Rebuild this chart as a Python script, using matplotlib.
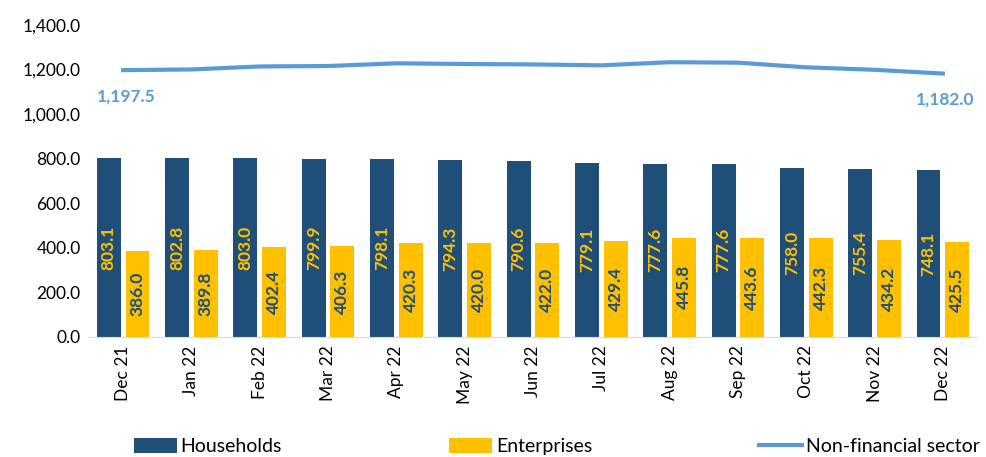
import numpy as np
import matplotlib.pyplot as plt

months = ['Dec 21', 'Jan 22', 'Feb 22', 'Mar 22', 'Apr 22', 'May 22', 'Jun 22',
          'Jul 22', 'Aug 22', 'Sep 22', 'Oct 22', 'Nov 22', 'Dec 22']
households = [803.1, 802.8, 803.0, 799.9, 798.1, 794.3, 790.6, 779.1, 777.6, 777.6, 758.0, 755.4, 748.1]
enterprises = [386.0, 389.8, 402.4, 406.3, 420.3, 420.0, 422.0, 429.4, 445.8, 443.6, 442.3, 434.2, 425.5]
non_financial = [1197.5, 1200.5, 1214.0, 1216.0, 1228.0, 1225.0, 1223.0, 1219.0, 1233.0, 1231.0, 1210.0, 1199.0, 1182.0]

c_house = '#1F4E79'
c_ent = '#FFC000'
c_line = '#5B9BD5'

plt.rcParams['font.family'] = ['Lato', 'DejaVu Sans']

fig = plt.figure(figsize=(9.87, 4.57), dpi=100)
ax = fig.add_axes([0.0902, 0.2626, 0.8997, 0.6827])

x = np.arange(len(months))
w = 0.35
b1 = ax.bar(x - 0.21, households, w, color=c_house, label='Households')
b2 = ax.bar(x + 0.21, enterprises, w, color=c_ent, label='Enterprises')
ln, = ax.plot(x, non_financial, color=c_line, lw=3, label='Non-financial sector')

for i in range(len(x)):
    ax.text(x[i] - 0.21, households[i] / 2, f'{households[i]:.1f}', rotation=90,
            ha='center', va='center', color=c_ent, fontsize=12.5, fontweight='bold')
    ax.text(x[i] + 0.21, enterprises[i] / 2, f'{enterprises[i]:.1f}', rotation=90,
            ha='center', va='center', color=c_house, fontsize=12.5, fontweight='bold')

for i in [0, len(x) - 1]:
    ax.annotate(f'{non_financial[i]:,.1f}', (x[i], non_financial[i]), xytext=(2, -13),
                textcoords='offset points', ha='center', va='top', color=c_line,
                fontsize=12.5, fontweight='bold')

ax.set_xlim(-0.5, len(x) - 0.5)
ax.set_ylim(0, 1400)
ax.set_yticks(np.arange(0, 1401, 200))
ax.set_yticklabels([f'{v:,.1f}' for v in np.arange(0, 1401, 200)], fontsize=12.5)
ax.set_xticks(x)
ax.set_xticklabels(months, rotation=90, fontsize=12.5)
ax.tick_params(axis='both', length=0, pad=6)
for s in ['top', 'right', 'left']:
    ax.spines[s].set_visible(False)
ax.spines['bottom'].set_color('#D9D9D9')

fig.legend(handles=[b1, b2, ln], loc='lower left', bbox_to_anchor=(0.118, -0.035),
           ncol=3, frameon=False, fontsize=14, handlelength=2.2, handleheight=0.8,
           handletextpad=0.2, columnspacing=8.6)

plt.savefig('out.png', dpi=100)
